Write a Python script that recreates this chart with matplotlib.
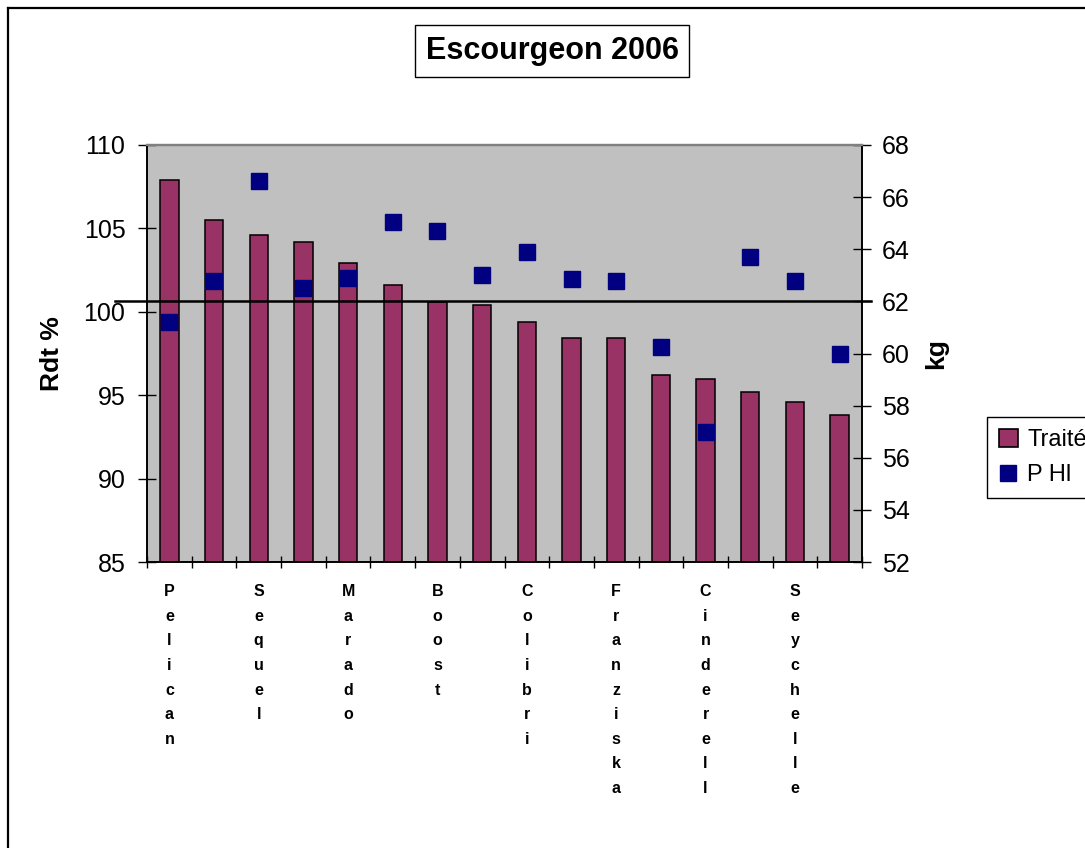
import numpy as np
import matplotlib
matplotlib.use("Agg")
import matplotlib.pyplot as plt
from matplotlib.patches import Patch
from matplotlib.lines import Line2D

plt.rcParams['font.family'] = ['Liberation Sans', 'DejaVu Sans']

# varieties (only every other name is printed on the axis)
varieties = ['Pelican', '', 'Sequel', '', 'Marado', '', 'Boost', '',
             'Colibri', '', 'Franziska', '', 'Cinderell', '', 'Seychelle', '']
rdt_traite = [107.9, 105.5, 104.6, 104.2, 102.9, 101.6, 100.6, 100.4,
              99.4, 98.4, 98.4, 96.2, 96.0, 95.2, 94.6, 93.8]
p_hl = [61.2, 62.8, 66.6, 62.5, 62.9, 65.05, 64.7, 63.0,
        63.9, 62.85, 62.8, 60.25, 57.0, 63.7, 62.8, 60.0]
ref_kg = 62

fig = plt.figure(figsize=(10.85, 8.48), dpi=100)
ax = fig.add_axes([147 / 1085, 1 - 562 / 848, 715 / 1085, 417 / 848])
ax.set_facecolor('#c0c0c0')

x = np.arange(len(varieties))
ax.bar(x, rdt_traite, width=0.41, color='#993366', edgecolor='black',
       linewidth=1.1, zorder=2)
ax.set_xlim(-0.5, len(varieties) - 0.5)
ax.set_ylim(85, 110)
ax.set_yticks(np.arange(85, 111, 5))

# ticks between categories, names under bars
ax.set_xticks(np.arange(len(varieties) + 1) - 0.5)
ax.set_xticklabels([])
ax.set_xticks(x, minor=True)
ax.set_xticklabels(['\n'.join(v) for v in varieties], minor=True,
                   fontsize=11.5, fontweight='bold', linespacing=1.8, va='top')
ax.tick_params(axis='x', which='major', direction='inout', length=8, width=1)
ax.tick_params(axis='x', which='minor', length=0, pad=16)
ax.tick_params(axis='y', direction='inout', length=13, width=1,
               labelsize=18, pad=9)
ax.set_ylabel('Rdt %', fontsize=19, fontweight='bold', labelpad=14)

ax2 = ax.twinx()
ax2.plot(x, p_hl, linestyle='none', marker='s', markersize=12,
         color='#000080', zorder=4)
ax2.axhline(ref_kg, xmin=-0.045, xmax=1.012, color='black', lw=1.8,
            clip_on=False, zorder=3)
ax2.set_ylim(52, 68)
ax2.set_yticks(np.arange(52, 69, 2))
ax2.tick_params(axis='y', direction='inout', length=13, width=1,
                labelsize=18, pad=8)
ax2.set_ylabel('kg', fontsize=19, fontweight='bold', labelpad=10)

for a in (ax, ax2):
    a.spines['top'].set_color('#808080')
    a.spines['top'].set_linewidth(1.6)
    for s in ('left', 'right', 'bottom'):
        a.spines[s].set_color('black')
        a.spines[s].set_linewidth(1.2)

fig.text(552 / 1085, 1 - 51 / 848, 'Escourgeon 2006', fontsize=22,
         fontweight='bold', ha='center', va='center',
         bbox=dict(boxstyle='square,pad=0.35', facecolor='white',
                   edgecolor='black', linewidth=1))

handles = [Patch(facecolor='#993366', edgecolor='black', linewidth=1.2),
           Line2D([], [], linestyle='none', marker='s', markersize=12,
                  color='#000080')]
fig.legend(handles, ['Traité', 'P Hl'], loc='upper left',
           bbox_to_anchor=(987 / 1085, 1 - 417 / 848), borderaxespad=0,
           fontsize=17, frameon=True, fancybox=False, edgecolor='black',
           framealpha=1, handlelength=0.8, handleheight=0.8,
           handletextpad=0.4, borderpad=0.5, labelspacing=0.55)

# outer chart border
fig.add_artist(Line2D([7.5 / 1085, 7.5 / 1085], [0, 1 - 7.5 / 848],
                      transform=fig.transFigure, color='black', lw=1.6))
fig.add_artist(Line2D([7.5 / 1085, 1], [1 - 7.5 / 848, 1 - 7.5 / 848],
                      transform=fig.transFigure, color='black', lw=1.6))

fig.savefig('out.png', dpi=100)
